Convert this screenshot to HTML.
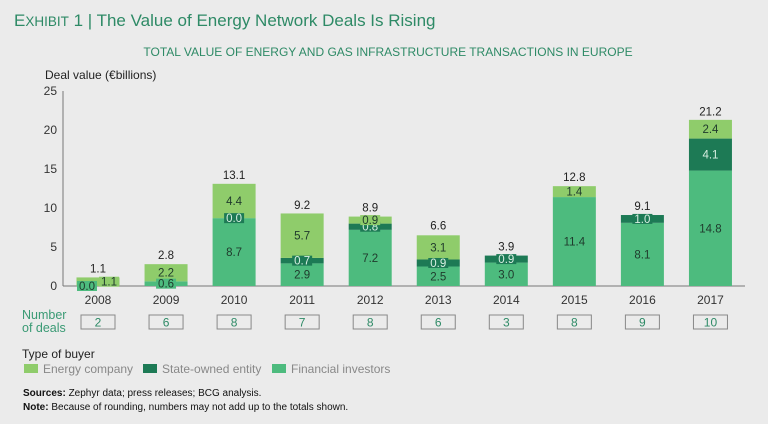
<!DOCTYPE html>
<html><head><meta charset="utf-8">
<style>
body{margin:0;background:#ebebeb;font-family:"Liberation Sans",sans-serif;}
svg{display:block}
</style></head>
<body>
<svg id="c" width="768" height="424" viewBox="0 0 768 424">
<rect width="768" height="424" fill="#ebebeb"/>
<text x="14" y="26" font-size="17" fill="#2e8a66"><tspan font-size="17">E</tspan><tspan font-size="13.5">XHIBIT</tspan> 1 | The Value of Energy Network Deals Is Rising</text>
<text x="388" y="56" font-size="12" fill="#2e8a66" text-anchor="middle">TOTAL VALUE OF ENERGY AND GAS INFRASTRUCTURE TRANSACTIONS IN EUROPE</text>
<text x="45" y="79" font-size="12" fill="#222">Deal value (€billions)</text>
<g id="axes"></g>
<g id="bars"></g>
<text x="22" y="319" font-size="12.5" fill="#3a9a74">Number</text>
<text x="22" y="332" font-size="12.5" fill="#3a9a74">of deals</text>
<text x="22" y="358" font-size="12" fill="#222">Type of buyer</text>
<g><rect x="24" y="364" width="14" height="9" fill="#8fcc6b"/><text x="43" y="373" font-size="12" fill="#888">Energy company</text></g>
<g><rect x="143" y="364" width="14" height="9" fill="#1d7a55"/><text x="162" y="373" font-size="12" fill="#888">State-owned entity</text></g>
<g><rect x="272" y="364" width="14" height="9" fill="#4dbb7e"/><text x="291" y="373" font-size="12" fill="#888">Financial investors</text></g>
<text x="23" y="396" font-size="10" fill="#111"><tspan font-weight="bold">Sources:</tspan> Zephyr data; press releases; BCG analysis.</text>
<text x="23" y="410" font-size="10" fill="#111"><tspan font-weight="bold">Note:</tspan> Because of rounding, numbers may not add up to the totals shown.</text>
</svg>
<script>
const years=["2008","2009","2010","2011","2012","2013","2014","2015","2016","2017"];
const financial=[0.0,0.6,8.7,2.9,7.2,2.5,3.0,11.4,8.1,14.8];
const stateOwned=[0.0,0.0,0.0,0.7,0.8,0.9,0.9,0.0,1.0,4.1];
const energy=[1.1,2.2,4.4,5.7,0.9,3.1,0.0,1.4,0.0,2.4];
const totals=[1.1,2.8,13.1,9.2,8.9,6.6,3.9,12.8,9.1,21.2];
const deals=[2,6,8,7,8,6,3,8,9,10];
const showFin=[true,true,true,true,true,true,true,true,true,true];
const showState=[false,false,true,true,true,true,true,false,true,true];
const showEnergy=[true,true,true,true,true,true,false,true,false,true];
const yTicks=[0,5,10,15,20,25];

const NS="http://www.w3.org/2000/svg";
const y0=286,pxU=7.8,x0=98,step=68.05,bw=43;
const Y=v=>y0-v*pxU;
const X=i=>x0+i*step;
function mk(p,tag,at,txt){const e=document.createElementNS(NS,tag);for(const k in at)e.setAttribute(k,at[k]);if(txt!=null)e.textContent=txt;p.appendChild(e);return e;}
const ax=document.getElementById('axes'),bars=document.getElementById('bars');
const yl=mk(ax,'line',{x1:63,x2:63,y1:Y(25),y2:y0,stroke:'#777','stroke-width':1});


const xl=mk(ax,'line',{x1:63,x2:745,y1:y0,y2:y0,stroke:'#777','stroke-width':1});


yTicks.forEach(t=>{const e=mk(ax,'text',{x:57,y:Y(t)+4,'font-size':12,fill:'#333','text-anchor':'end'},t);

});
const labels=[];
function seg(i,base,v,col,name,show,tc,dx){
  const r=mk(bars,'rect',{x:X(i)-bw/2,y:Y(base+v),width:bw,height:v*pxU,fill:col});
  
  
  if(show){labels.push({x:X(i)+(dx||0),cy:Y(base+v/2),v:v,col:col,tc:tc,name:name+'-label-'+years[i],box:v*pxU<14});}
}
years.forEach((yr,i)=>{
  const zeroFin=financial[i]===0;
  seg(i,0,financial[i],'#4dbb7e','financial',showFin[i],'#1f3a2c',zeroFin?-11:0);
  seg(i,financial[i],stateOwned[i],'#1d7a55','state',showState[i],'#d8efe2',0);
  seg(i,financial[i]+stateOwned[i],energy[i],'#8fcc6b','energy',showEnergy[i],'#1f3a2c',zeroFin?11:0);
  const tt=mk(bars,'text',{x:X(i),y:Y(totals[i])-5,'font-size':11.5,fill:'#222','text-anchor':'middle'},totals[i].toFixed(1));
  
  
  const xt=mk(bars,'text',{x:X(i),y:304,'font-size':12,fill:'#333','text-anchor':'middle'},yr);
  
  
  const b=mk(bars,'rect',{x:X(i)-17,y:315,width:34,height:14,fill:'none',stroke:'#888','stroke-width':1});
  
  
  const dt=mk(bars,'text',{x:X(i),y:326.5,'font-size':12,fill:'#2e8a66','text-anchor':'middle'},deals[i]);
  
  
});
labels.forEach(l=>{
  if(l.box){const bx=mk(bars,'rect',{x:l.x-10,y:l.cy-5,width:20,height:10,fill:l.col});
    
    }
  const t=mk(bars,'text',{x:l.x,y:l.cy+4,'font-size':11.5,fill:l.tc,'text-anchor':'middle'},l.v.toFixed(1));
  
  
});
</script>
</body></html>
